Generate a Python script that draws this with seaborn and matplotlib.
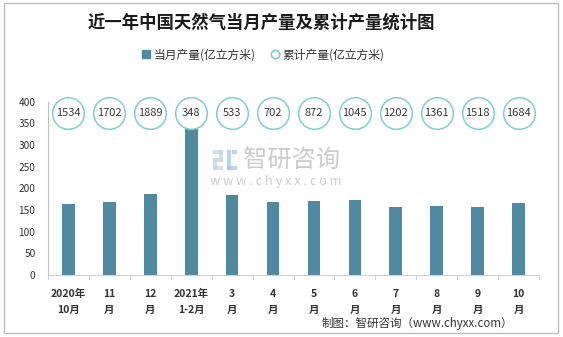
import matplotlib
matplotlib.use("Agg")
import matplotlib.pyplot as plt
import matplotlib.patches as mpatches
from matplotlib.lines import Line2D
import seaborn as sns
import pandas as pd

# Monthly and cumulative natural gas output (100 million m³)
months = ["2020年\n10月", "11\n月", "12\n月", "2021年\n1-2月", "3\n月", "4\n月",
          "5\n月", "6\n月", "7\n月", "8\n月", "9\n月", "10\n月"]
monthly = [164, 168, 187, 348, 185, 169, 170, 173, 157, 159, 157, 166]
cumulative = [1534, 1702, 1889, 348, 533, 702, 872, 1045, 1202, 1361, 1518, 1684]

BAR_COLOR = "#518aa0"
RING_COLOR = "#7fcfca"
RING_Y = 373

sns.set_theme(style="white")
plt.rcParams["font.family"] = ["Noto Sans CJK SC", "DejaVu Sans"]

df = pd.DataFrame({"month": months, "monthly": monthly, "cumulative": cumulative})

W, H = 563, 337
fig = plt.figure(figsize=(W / 100, H / 100), dpi=100)
ax = fig.add_axes([48 / W, 1 - 275 / H, (539 - 48) / W, (275 - 101.5) / H])

sns.barplot(data=df, x="month", y="monthly", color=BAR_COLOR, width=0.31,
            saturation=1, ax=ax, edgecolor="none")

# cumulative values shown as labelled rings along the top
xs = list(range(len(months)))
ax.scatter(xs, [RING_Y] * len(xs), s=520, facecolor="white",
           edgecolor=RING_COLOR, linewidth=1.1, zorder=3, clip_on=False)
for x, v in zip(xs, df["cumulative"]):
    ax.text(x, RING_Y, f"{v}", ha="center", va="center", fontsize=8,
            color="#3a3a3a", zorder=4)

ax.set_ylim(0, 400)
ax.set_xlim(-0.5, len(months) - 0.5)
ax.set_yticks(range(0, 401, 50))
ax.set_xlabel("")
ax.set_ylabel("")
ax.tick_params(axis="y", labelsize=7.3, colors="#333333", length=0, pad=9)
ax.tick_params(axis="x", labelsize=7.5, colors="#333333", length=0, pad=10)
for lbl in ax.get_xticklabels():
    lbl.set_fontweight("bold")
    lbl.set_linespacing(1.75)
    lbl.set_verticalalignment("top")

# category boundary ticks on the x axis
for b in [i - 0.5 for i in range(len(months) + 1)]:
    ax.plot([b, b], [0, -0.024], transform=ax.get_xaxis_transform(),
            color="#d0d0d0", lw=0.8, clip_on=False)

for side in ["top", "right"]:
    ax.spines[side].set_visible(False)
ax.spines["left"].set_color("#bfbfbf")
ax.spines["bottom"].set_color("#d0d0d0")
ax.spines["left"].set_linewidth(0.8)
ax.spines["bottom"].set_linewidth(0.8)
ax.grid(False)

fig.text(0.464, 1 - 23 / H, "近一年中国天然气当月产量及累计产量统计图",
         ha="center", va="center", fontsize=12.5, fontweight="bold", color="#1a1a1a")

handles = [
    Line2D([], [], marker="s", linestyle="none", markersize=5.5,
           markerfacecolor=BAR_COLOR, markeredgecolor=BAR_COLOR),
    Line2D([], [], marker="o", linestyle="none", markersize=6,
           markerfacecolor="white", markeredgecolor=RING_COLOR, markeredgewidth=1.2),
]
fig.legend(handles, ["当月产量(亿立方米)", "累计产量(亿立方米)"], ncol=2,
           loc="center", bbox_to_anchor=(0.466, 1 - 55 / H), frameon=False,
           fontsize=8.5, handletextpad=0.1, columnspacing=1.2, handlelength=1.0,
           labelcolor="#333333")

# watermark
fig.text(243 / W, 1 - 161 / H, "智研咨询", ha="left", va="center",
         fontsize=17.5, color="#c4c4c4", alpha=0.85, zorder=0)
fig.text(210 / W, 1 - 182 / H, "w w w . c h y x x . c o m", ha="left", va="center",
         fontsize=9.2, color="#c4c4c4", alpha=0.85, zorder=0)
for (x0, y0, w, h, c) in [(213, 150, 10, 4, "#c9d6e8"), (219, 150, 4, 12, "#c9d6e8"),
                          (213, 158, 10, 4, "#c9d6e8"), (213, 158, 4, 12, "#c9d6e8"),
                          (213, 166, 10, 4, "#c9d6e8"), (227, 150, 4, 20, "#a9c9ec"),
                          (232, 150, 5, 4, "#a9c9ec"), (227, 166, 10, 4, "#a9c9ec")]:
    fig.patches.append(mpatches.Rectangle((x0 / W, 1 - (y0 + h) / H), w / W, h / H,
                                          transform=fig.transFigure, facecolor=c,
                                          edgecolor="none", alpha=0.8, zorder=0))

fig.text(513 / W, 1 - 323 / H, "制图：智研咨询（www.chyxx.com）", ha="right",
         va="center", fontsize=8.3, color="#333333")

# outer frame
fig.patches.append(mpatches.Rectangle((4 / W, 1 - 333 / H), 554 / W, 330 / H,
                                      transform=fig.transFigure, fill=False,
                                      edgecolor="#bdbdbd", linewidth=1.0))

fig.savefig("out.png", dpi=100)
